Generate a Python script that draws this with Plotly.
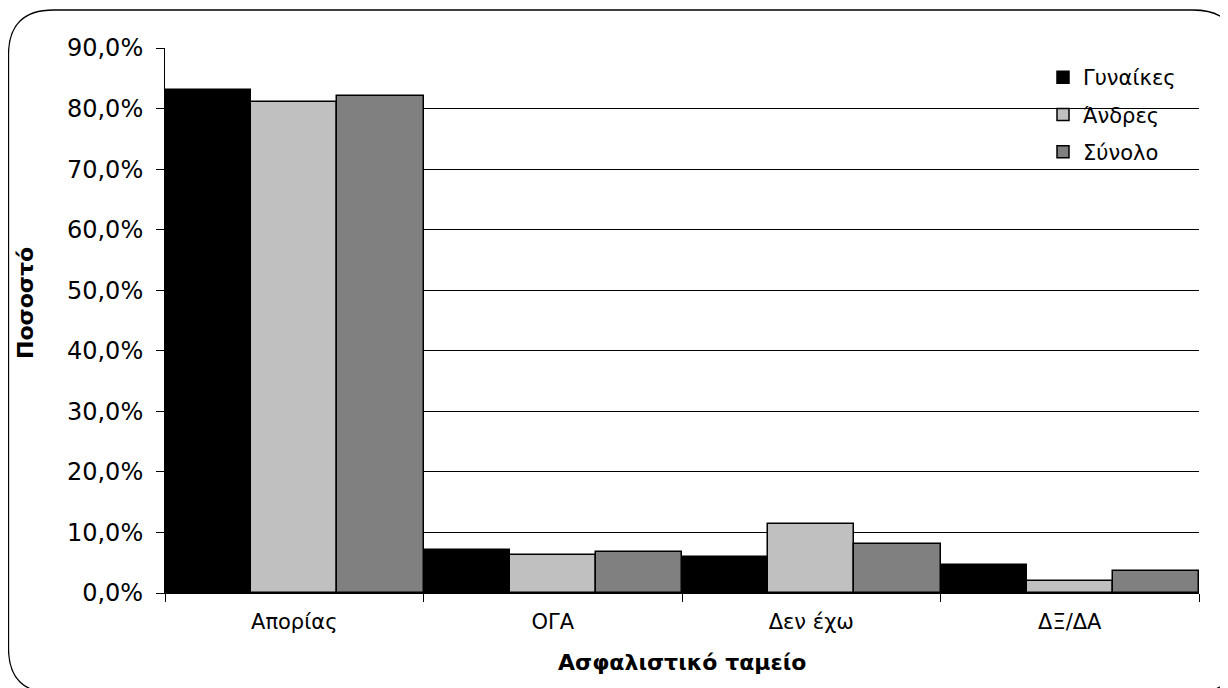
import plotly.graph_objects as go

categories = ["Απορίας", "ΟΓΑ", "Δεν έχω", "ΔΞ/ΔΑ"]
series_names = ["Γυναίκες", "Άνδρες", "Σύνολο"]
gynaikes = [0.831, 0.071, 0.059, 0.046]
andres = [0.811, 0.062, 0.114, 0.019]
synolo = [0.821, 0.068, 0.081, 0.036]
y_ticks = [0, 0.1, 0.2, 0.3, 0.4, 0.5, 0.6, 0.7, 0.8, 0.9]
x_title = "Ασφαλιστικό ταμείο"
y_title = "Ποσοστό"

W, H = 1228, 688
OFF = 8  # page body offset
# plot area in page pixels
PL, PR, PT, PB = 165, 1199, 48, 593
L, T = PL - OFF, PT - OFF
R = W - (PR - OFF)
B = H - (PB - OFF)
PW, PH = PR - PL, PB - PT

colors = ["#000000", "#c0c0c0", "#808080"]
values = [gynaikes, andres, synolo]

fig = go.Figure()
for name, vals, col in zip(series_names, values, colors):
    fig.add_trace(go.Bar(
        x=categories, y=vals, name=name, legendgroup=name,
        marker=dict(color=col, line=dict(color="#000000", width=1.5)),
    ))


def px(x):
    return (x - PL) / PW


def py(y):
    return (PB - y) / PH


# rounded border (page pixel coords)
x0, y0, x1, y1, r = 8.5, 10, 1238, 693, 45
path = (f"M {px(x0 + r)},{py(y0)} L {px(x1 - r)},{py(y0)} "
        f"Q {px(x1)},{py(y0)} {px(x1)},{py(y0 + r)} "
        f"L {px(x1)},{py(y1 - r)} Q {px(x1)},{py(y1)} {px(x1 - r)},{py(y1)} "
        f"L {px(x0 + r)},{py(y1)} Q {px(x0)},{py(y1)} {px(x0)},{py(y1 - r)} "
        f"L {px(x0)},{py(y0 + r)} Q {px(x0)},{py(y0)} {px(x0 + r)},{py(y0)} Z")

fig.update_layout(
    width=W, height=H,
    margin=dict(l=L, r=R, t=T, b=B, pad=0),
    paper_bgcolor="white", plot_bgcolor="white",
    barmode="group", bargap=0, bargroupgap=0,
    separators=",.",
    font=dict(family="DejaVu Sans", size=22, color="#000000"),
    shapes=[dict(type="path", xref="paper", yref="paper", path=path,
                 line=dict(color="#000000", width=1.3), fillcolor="rgba(0,0,0,0)",
                 layer="below")],
    legend=dict(x=px(1043), y=py(57), xanchor="left", yanchor="top",
                bgcolor="rgba(0,0,0,0)", font=dict(size=21),
                tracegroupgap=7, itemwidth=30),
    annotations=[
        dict(text=f"<b>{x_title}</b>", xref="paper", yref="paper",
             x=px((PL + PR) / 2), y=py(662), xanchor="center", yanchor="middle",
             showarrow=False, font=dict(size=22)),
        dict(text=f"<b>{y_title}</b>", xref="paper", yref="paper",
             x=px(25), y=py(303), xanchor="center", yanchor="middle",
             textangle=-90, showarrow=False, font=dict(size=22)),
    ],
    xaxis=dict(
        showline=True, linecolor="#000000", linewidth=1,
        ticks="outside", tickson="boundaries", ticklen=8, tickcolor="#000000",
        tickfont=dict(size=21), ticklabelstandoff=10,
    ),
    yaxis=dict(
        range=[0, 0.9], tickvals=y_ticks, tickformat=".1%",
        showgrid=True, gridcolor="#000000", gridwidth=1,
        showline=True, linecolor="#000000", linewidth=1,
        ticks="outside", ticklen=8, tickcolor="#000000",
        tickfont=dict(size=24), zeroline=False, ticklabelstandoff=8,
    ),
)

fig.write_html("out.html")
